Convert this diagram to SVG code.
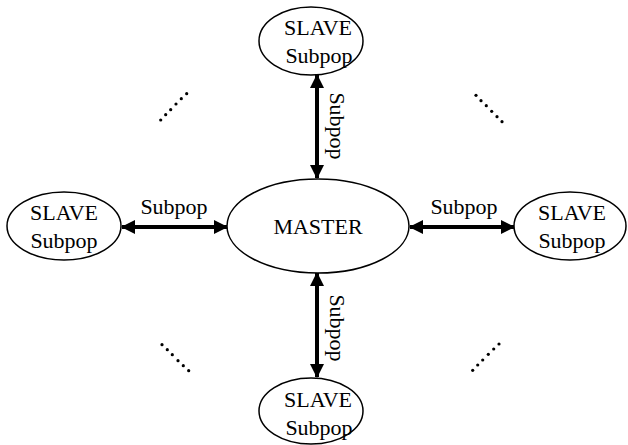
<svg xmlns="http://www.w3.org/2000/svg" width="628" height="445" viewBox="0 0 628 445">
<style>
text{font-family:"Liberation Serif","Times New Roman",serif;font-size:22px;fill:#000;text-anchor:middle}
.node ellipse{fill:#fff;stroke:#000;stroke-width:1.5}
.conn line{stroke:#000;stroke-width:4}
.dots circle{fill:#000}
</style>
<defs>
<marker id="ah" viewBox="0 0 14 14" refX="13" refY="7" markerWidth="14" markerHeight="14" markerUnits="userSpaceOnUse" orient="auto-start-reverse">
<path d="M0,0 L14,7 L0,14 Z" fill="#000"/>
</marker>
</defs>
<rect width="628" height="445" fill="#fff"/>
<g id="connectors" class="conn">
<line x1="317" y1="75" x2="317" y2="178" marker-start="url(#ah)" marker-end="url(#ah)"/>
<line x1="317" y1="273" x2="317" y2="377" marker-start="url(#ah)" marker-end="url(#ah)"/>
<line x1="122" y1="227" x2="227" y2="227" marker-start="url(#ah)" marker-end="url(#ah)"/>
<line x1="410" y1="227" x2="514" y2="227" marker-start="url(#ah)" marker-end="url(#ah)"/>
<text x="174" y="214">Subpop</text>
<text x="464" y="214">Subpop</text>
<text transform="translate(330,126) rotate(90)">Subpop</text>
<text transform="translate(330,328) rotate(90)">Subpop</text>
</g>
<g id="master" class="node">
<ellipse cx="318" cy="226" rx="91" ry="47"/>
<text x="318" y="234">MASTER</text>
</g>
<g id="slave-top" class="node">
<ellipse cx="311" cy="41" rx="52" ry="34"/>
<text x="318" y="35">SLAVE</text>
<text x="319" y="63">Subpop</text>
</g>
<g id="slave-bottom" class="node">
<ellipse cx="311" cy="411" rx="52" ry="33"/>
<text x="318" y="407">SLAVE</text>
<text x="319" y="435">Subpop</text>
</g>
<g id="slave-left" class="node">
<ellipse cx="64" cy="226" rx="57" ry="34"/>
<text x="64" y="220">SLAVE</text>
<text x="64" y="248">Subpop</text>
</g>
<g id="slave-right" class="node">
<ellipse cx="570" cy="226" rx="56" ry="34"/>
<text x="572" y="220">SLAVE</text>
<text x="572" y="248">Subpop</text>
</g>
<g class="dots">
<circle cx="160.7" cy="120" r="1.6"/><circle cx="165.7" cy="114.7" r="1.6"/><circle cx="170.7" cy="109.7" r="1.6"/><circle cx="176" cy="104" r="1.6"/><circle cx="181.3" cy="98.7" r="1.6"/><circle cx="186.7" cy="93.7" r="1.6"/>
<circle cx="476" cy="95.3" r="1.6"/><circle cx="481" cy="100.7" r="1.6"/><circle cx="486.3" cy="105.7" r="1.6"/><circle cx="491.7" cy="111.3" r="1.6"/><circle cx="497" cy="116.7" r="1.6"/><circle cx="502" cy="121.7" r="1.6"/>
<circle cx="162" cy="344.7" r="1.6"/><circle cx="167.3" cy="349.7" r="1.6"/><circle cx="172.3" cy="354.7" r="1.6"/><circle cx="178" cy="360.7" r="1.6"/><circle cx="183.3" cy="365.7" r="1.6"/><circle cx="188.7" cy="370.7" r="1.6"/>
<circle cx="472.7" cy="370.3" r="1.6"/><circle cx="477.7" cy="365" r="1.6"/><circle cx="482.7" cy="360" r="1.6"/><circle cx="488.3" cy="354.3" r="1.6"/><circle cx="493.7" cy="349" r="1.6"/><circle cx="499" cy="344" r="1.6"/>
</g>
</svg>
